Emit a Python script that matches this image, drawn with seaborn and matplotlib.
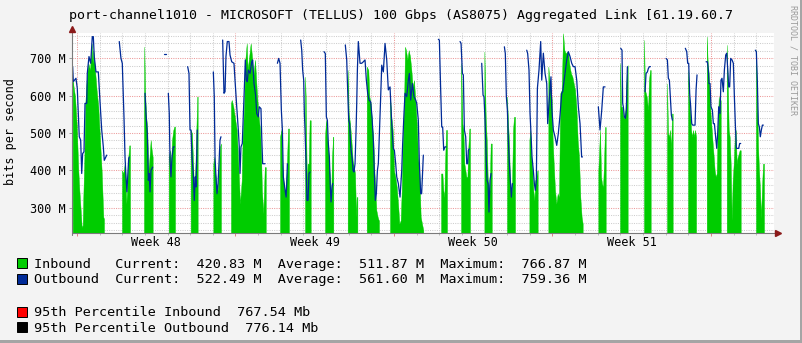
import matplotlib
matplotlib.use("Agg")
import matplotlib.pyplot as plt
import matplotlib.transforms as mtransforms
from matplotlib.patches import Rectangle
from matplotlib.ticker import MultipleLocator, FixedLocator
import numpy as np
import pandas as pd
import seaborn as sns

# ---------------- data (hours since first Monday grid line, Mbit/s) ----------------
title = "port-channel1010 - MICROSOFT (TELLUS) 100 Gbps (AS8075) Aggregated Link [61.19.60.7"
week_labels = ["Week 48", "Week 49", "Week 50", "Week 51"]
y_ticks = [300, 400, 500, 600, 700]
y_tick_labels = ["300 M", "400 M", "500 M", "600 M", "700 M"]

inbound = [
    [(-4.6,641),(-2.1,597),(-0.4,525),(1.4,400),(2.5,347),(3.9,294),(5.0,249),(6.0,253),(6.7,329),(7.8,436),(8.8,579),(10.2,641),(12.0,686),(13.8,668),(15.5,739),(16.6,686),(17.3,721),(19.1,668),(20.8,614),(22.6,570),(24.4,481),(26.1,400),(27.9,276),(28.6,271)],
    [(47.7,400),(49.1,392),(50.9,423),(52.3,311),(53.3,356),(54.4,436),(55.4,467),(56.2,467)],
    [(71.0,552),(71.3,730),(72.1,615),(73.1,552),(74.5,508),(75.6,400),(76.6,427),(78.1,481),(79.2,454),(80.2,436)],
    [(97.2,436),(98.6,454),(99.6,400),(100.7,481),(102.1,508),(103.1,517),(103.9,517)],
    [(120.5,508),(121.9,499),(123.3,400),(124.3,338),(125.4,400),(126.5,508),(127.5,597),(127.9,597)],
    [(144.5,418),(145.5,436),(146.6,392),(148.1,356),(149.1,347),(150.2,392),(151.6,463),(152.6,472)],
    [(163.2,579),(164.0,588),(165.7,570),(169.3,508),(171.0,418),(172.8,311),(174.6,374),(175.6,490),(177.0,561),(178.4,695),(179.9,739),(180.9,668),(184.1,739),(185.5,704),(186.9,650),(188.7,695),(190.5,615),(192.2,552),(194.0,508),(195.0,454),(196.0,347),(197.5,285),(199.0,409),(200.1,409)],
    [(215.2,490),(216.6,508),(218.0,392),(219.4,356),(220.9,329),(222.3,400),(223.7,512),(224.7,512)],
    [(241.7,650),(242.4,597),(243.1,463),(243.8,347),(244.5,418),(245.6,418),(246.6,534),(247.7,534)],
    [(262.9,490),(263.9,534),(265.4,481),(266.8,436),(268.2,374),(269.3,311),(270.3,436),(271.4,490),(271.7,490)],
    [(286.9,668),(288.0,552),(289.4,525),(290.8,481),(292.2,427),(293.6,409),(294.7,392),(295.8,276),(296.5,329),(297.2,329)],
    [(307.1,677),(308.8,668),(309.9,597),(311.3,579),(312.7,525),(314.1,481),(315.2,400),(316.2,347),(317.3,294),(318.7,276),(319.8,267),(320.1,267)],
    [(331.8,597),(333.2,543),(334.6,508),(336.0,400),(337.4,383),(338.9,356),(340.3,311),(341.7,258),(343.1,267),(344.2,347),(345.2,463),(346.6,570),(347.7,730),(348.7,721),(350.2,695),(351.6,721),(353.0,704),(354.4,668),(355.8,623),(357.2,641),(358.6,588),(360.1,525),(361.5,436),(362.9,392),(364.3,276),(365.7,258),(367.1,240)],
    [(385.9,392),(387.3,392),(388.3,347),(389.4,329),(390.1,418),(391.2,508),(392.2,508)],
    [(407.1,686),(408.5,525),(409.5,508),(410.6,418),(411.7,400),(412.7,383),(413.8,383),(414.8,463),(415.9,512),(416.6,512)],
    [(431.8,717),(432.5,632),(433.2,543),(434.3,481),(435.3,383),(436.4,356),(437.4,347),(438.5,472),(439.6,472)],
    [(455.8,597),(456.9,525),(457.9,481),(459.0,365),(460.1,329),(461.1,356),(462.2,508),(463.2,543),(464.3,543)],
    [(479.5,481),(480.5,508),(481.6,427),(482.7,400),(483.7,347),(484.8,320),(485.8,374),(486.9,383),(488.0,400),(488.3,400)],
    [(499.6,677),(500.7,641),(501.7,632),(503.2,588),(504.2,481),(505.3,418),(506.7,347),(508.1,311),(509.5,338),(510.9,329),(512.3,606),(513.8,615),(515.2,766),(516.6,721),(518.0,712),(519.4,717),(520.8,708),(522.2,677),(523.6,659),(525.1,650),(526.5,632),(527.9,615),(529.3,570),(530.7,481),(532.1,436),(533.5,329),(534.9,276),(536.0,258)],
    [(552.6,400),(554.4,508),(555.5,383),(556.5,365),(557.6,356),(558.6,418),(559.7,516),(560.4,516)],
    [(575.6,686),(576.7,570),(577.7,570),(579.1,543),(580.2,539),(581.3,561),(582.7,659),(583.7,681)],
    [(601.0,748),(602.1,614),(603.9,597),(605.3,561),(606.3,641),(607.4,668),(608.1,668)],
    [(625.4,632),(626.5,499),(627.5,490),(628.6,508),(629.7,454),(630.7,552),(631.4,552)],
    [(647.7,668),(648.7,597),(649.8,561),(650.9,508),(651.9,490),(653.0,508),(654.0,490),(655.1,508),(656.2,490)],
    [(667.5,757),(668.5,690),(669.6,659),(670.6,597),(671.7,543),(672.8,508),(673.8,472),(674.9,436),(675.9,400),(677.0,383),(678.1,392),(679.1,508),(680.2,597),(681.2,570),(682.3,588)],
    [(688.7,735),(689.7,641),(690.8,508),(691.8,490),(692.9,418),(694.0,267),(695.0,374),(696.1,418),(697.1,481),(698.2,508),(699.3,418),(700.3,436),(701.4,445),(702.4,454),(703.5,454)],
    [(719.7,721),(720.8,597),(721.9,463),(722.9,400),(724.0,347),(725.0,273),(726.1,356),(727.2,418),(728.2,418)],
]

outbound = [
    [(-4.6,677),(-3.9,637),(-1.1,646),(0.3,619),(2.4,490),(3.9,481),(5.0,392),(6.0,445),(7.4,450),(8.5,579),(10.3,579),(10.9,659),(12.7,704),(14.5,686),(16.2,757),(17.3,757),(18.3,704),(20.1,663),(22.6,663),(24.4,583),(26.2,508),(27.9,463),(28.9,427),(31.5,441)],
    [(44.8,744),(46.6,699),(48.0,686),(49.1,597),(49.8,543),(50.9,436),(51.9,383),(52.9,343),(54.1,400),(54.8,432),(55.4,436)],
    [(72.1,606),(73.1,552),(74.5,499),(75.6,374),(76.6,392),(77.4,343),(78.4,400),(79.5,405),(80.2,409)],
    [(92.2,710),(94.3,710)],
    [(96.8,606),(97.8,552),(98.6,427),(99.6,383),(100.7,436),(102.1,463),(103.1,463)],
    [(117.3,677),(118.7,659),(119.8,508),(120.8,508),(121.9,436),(123.3,392),(124.3,320),(125.4,383),(126.1,356),(126.9,436),(127.5,508)],
    [(144.5,663),(145.5,597),(146.3,436),(147.3,383),(148.4,338),(149.5,365),(150.5,418),(151.6,481),(152.6,490)],
    [(154.4,748),(155.8,606),(156.9,610),(157.9,704),(159.3,744),(161.1,744),(162.2,708),(164.0,690),(166.4,686),(167.5,641),(169.3,570),(171.0,508),(172.0,463),(172.8,392),(173.8,463),(175.2,472),(176.3,548),(177.3,615),(178.4,695),(179.5,641),(180.5,637),(181.6,668),(183.4,659),(185.2,690),(186.2,695),(187.6,632),(189.3,601),(190.5,552),(192.2,543),(193.2,570),(195.0,565),(195.8,490),(196.8,418),(199.3,418)],
    [(212.4,686),(213.8,699),(215.2,686),(216.6,561),(217.7,508),(218.7,383),(220.1,356),(221.6,329),(222.3,365),(223.0,418)],
    [(237.1,748),(238.2,721),(239.2,668),(240.3,641),(241.0,552),(241.7,508),(242.8,418),(243.8,320),(244.9,320),(245.9,392),(247.0,396)],
    [(261.8,717),(263.2,712),(264.3,543),(265.4,534),(266.4,472),(267.5,436),(268.5,356),(269.3,316),(270.3,356),(271.0,365)],
    [(284.4,735),(285.9,695),(286.6,637),(288.0,534),(289.0,525),(290.1,463),(291.5,436),(292.6,400),(293.6,396),(294.7,418),(295.8,508),(296.5,579),(297.2,668),(298.2,744),(300.0,686),(301.8,686),(303.5,690),(305.3,695),(306.7,641),(308.1,606),(309.5,588),(311.3,583),(312.7,543),(314.1,481),(315.2,392),(316.2,320),(317.3,338),(318.4,400),(319.4,418),(321.9,597),(323.0,681),(324.7,663),(326.5,739),(328.3,695),(330.0,615),(331.8,623),(333.6,525),(335.3,458),(336.4,454),(337.8,418),(338.9,383),(340.6,365),(342.4,329),(344.2,400),(345.2,472),(346.6,552),(347.7,606),(349.5,597),(351.2,641),(352.3,659),(353.7,588),(355.5,632),(357.2,597),(359.0,588),(360.1,579),(361.8,534),(362.9,418),(364.3,338),(365.3,338),(366.4,400),(367.1,441)],
    [(383.0,750),(384.1,748),(385.2,641),(386.6,516),(387.6,516),(388.7,454),(390.1,463),(391.2,463)],
    [(406.0,744),(407.1,739),(408.5,659),(409.5,655),(410.6,508),(412.0,490),(413.1,418),(414.1,418),(414.8,454),(415.9,458)],
    [(429.0,686),(430.4,601),(431.4,597),(432.5,534),(433.6,445),(434.6,374),(435.7,365),(436.7,289),(437.8,374),(438.9,392)],
    [(453.0,730),(454.0,712),(455.1,597),(456.2,561),(457.2,481),(458.3,418),(459.3,374),(460.4,329),(461.5,365)],
    [(476.7,721),(477.7,712),(479.1,668),(480.2,552),(481.2,499),(482.3,436),(483.7,400),(484.8,365),(485.8,347),(486.9,374),(488.0,619),(489.7,668),(491.5,744),(492.6,641),(494.3,713),(496.1,659),(497.9,632),(498.9,525),(500.3,579),(502.4,650),(503.2,570),(504.9,508),(506.7,490),(508.5,467),(510.2,499),(512.0,548),(513.8,606),(514.8,610),(517.3,659),(519.1,695),(520.8,717),(522.6,704),(524.4,686),(526.1,677),(527.9,677),(529.7,641),(531.4,570),(533.2,525),(534.9,436),(535.7,436)],
    [(552.6,570),(554.4,508),(556.2,561),(557.9,623),(559.7,623)],
    [(576.3,726),(577.7,721),(578.4,579),(579.1,570),(580.2,543),(581.3,539),(582.3,561),(583.4,677)],
    [(602.1,610),(603.2,659),(604.6,663),(605.6,672),(606.7,677),(607.8,677)],
    [(624.4,699),(625.8,695),(626.8,646),(627.9,641),(628.9,597),(630.0,548),(631.1,534)],
    [(644.8,726),(646.3,717),(647.3,686),(648.4,686),(649.4,606),(650.5,570),(651.6,525),(652.6,521),(654.0,521),(655.1,521),(656.2,615),(657.2,655)],
    [(666.8,690),(668.2,690),(669.2,668),(669.9,632),(671.0,632),(672.0,570),(673.5,561),(674.5,525),(675.6,525),(676.6,499),(678.1,459),(679.1,499),(680.2,570),(681.6,552),(682.6,641),(683.7,646),(685.1,610),(686.2,668),(687.6,708),(688.7,713),(689.7,672),(690.8,623),(691.8,623),(692.9,699),(694.3,695),(695.7,686),(696.8,597),(697.8,525),(698.9,459),(700.3,459),(701.4,459),(702.4,472),(703.5,472)],
    [(719.0,721),(720.1,717),(721.2,632),(722.2,525),(723.3,516),(724.3,490),(725.4,508),(726.5,521),(727.5,521)],
]

legend_rows = [
    ("#00CC00", "Inbound   Current:  420.83 M  Average:  511.87 M  Maximum:  766.87 M"),
    ("#002A97", "Outbound  Current:  522.49 M  Average:  561.60 M  Maximum:  759.36 M"),
    ("#FF0000", "95th Percentile Inbound  767.54 Mb"),
    ("#000000", "95th Percentile Outbound  776.14 Mb"),
]

# ---------------- figure ----------------
sns.set_theme(style="white")
MONO = ["DejaVu Sans Mono"]
plt.rcParams["font.family"] = MONO
W, H = 803, 343
FS = 9.7         # legend text
FS_T = 9.55      # title
FS_A = 8.5       # axis labels
fig = plt.figure(figsize=(W / 100, H / 100), dpi=100, facecolor="#F3F3F3")
ax = fig.add_axes([72 / W, 1 - 233 / H, 702 / W, 200 / H])
ax.set_facecolor("white")

# grid
ax.set_xlim(-5.3 / 24, 738.8 / 24)
ax.set_ylim(233.2, 766.8)
ax.xaxis.set_major_locator(MultipleLocator(7))
ax.xaxis.set_minor_locator(MultipleLocator(1))
ax.yaxis.set_major_locator(FixedLocator(y_ticks))
ax.yaxis.set_minor_locator(MultipleLocator(20))
ax.grid(which="minor", color="#CDCDCD", lw=0.75, ls=(0, (1, 1.2)))
ax.grid(which="major", color="#EC9A9A", lw=0.75, ls=(0, (1, 1.2)))
ax.set_axisbelow(True)

# inbound area
for seg in inbound:
    x = [h / 24 for h, _ in seg]
    y = [v for _, v in seg]
    ax.fill_between(x, 0, y, color="#00CC00", lw=0.3, edgecolor="#00CC00", zorder=2)

# outbound line via seaborn
rows = []
for i, seg in enumerate(outbound):
    for h, v in seg:
        rows.append({"day": h / 24, "mbps": v, "seg": i})
df_out = pd.DataFrame(rows)
sns.lineplot(data=df_out, x="day", y="mbps", units="seg", estimator=None, sort=False,
             color="#002A97", lw=0.9, ax=ax, legend=False, zorder=3)
ax.set_xlabel("")
ax.set_ylabel("")

# axes / ticks
for s in ax.spines.values():
    s.set_visible(False)
ax.plot([0, 1.004], [0, 0], transform=ax.transAxes, color="#7A7A7A", lw=0.8, clip_on=False, zorder=5)
ax.plot([0, 0], [-0.012, 1.015], transform=ax.transAxes, color="#7A7A7A", lw=0.8, clip_on=False, zorder=5)
ax.plot([1.006], [0], marker=">", ms=4, color="#8B1A1A", transform=ax.transAxes, clip_on=False, zorder=6)
ax.plot([0], [1.02], marker="^", ms=4, color="#8B1A1A", transform=ax.transAxes, clip_on=False, zorder=6)

ax.tick_params(axis="x", which="major", length=2.2, width=0.7, color="#E08080", labelbottom=False, direction="out")
ax.tick_params(axis="x", which="minor", length=1.6, width=0.7, color="#BBBBBB", direction="out")
ax.tick_params(axis="y", which="major", length=2.2, width=0.7, color="#999999", direction="out", pad=2.6)
ax.tick_params(axis="y", which="minor", length=0)
ax.set_yticklabels(y_tick_labels, fontsize=FS_A, color="#000000", family=MONO)
ax.tick_params(left=True, bottom=True, which="both")

trans = mtransforms.blended_transform_factory(ax.transData, fig.transFigure)
for k, lab in enumerate(week_labels):
    ax.text(3.5 + 7 * k, 1 - 246.5 / H, lab, transform=trans, ha="center", va="baseline",
            fontsize=FS_A, color="#000000")

# texts
fig.text(69 / W, 1 - 18.5 / H, title, ha="left", va="baseline", fontsize=FS_T, color="#000000")
fig.text(10.5 / W, 1 - 132 / H, "bits per second", rotation=90, ha="center", va="center",
         fontsize=FS_A, color="#000000")
fig.text(793 / W, 1 - 60 / H, "RRDTOOL / TOBI OETIKER", rotation=270, ha="center", va="center",
         fontsize=6, color="#9A9A9A")

baselines = [268.0, 283.5, 316.5, 332.0]
for (col, txt), yb in zip(legend_rows, baselines):
    fig.patches.append(Rectangle((17 / W, 1 - yb / H), 10 / W, 10 / H, transform=fig.transFigure,
                                 facecolor=col, edgecolor="#000000", lw=0.7))
    fig.text(34 / W, 1 - yb / H, txt, ha="left", va="baseline", fontsize=FS, color="#000000")

# frame
fig.patches.append(Rectangle((800 / W, 0), 3 / W, 1, transform=fig.transFigure, facecolor="#A5A5A5", lw=0))
fig.patches.append(Rectangle((0, 0), 1, 3 / H, transform=fig.transFigure, facecolor="#A5A5A5", lw=0))

fig.savefig("out.png", dpi=100, facecolor=fig.get_facecolor())
